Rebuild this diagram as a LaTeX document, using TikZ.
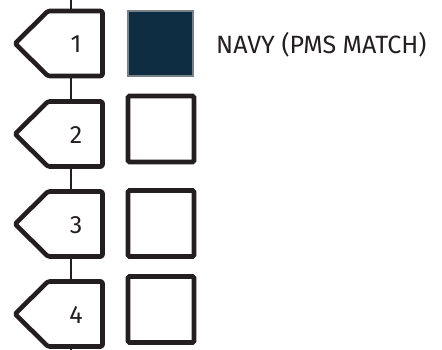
\documentclass[tikz,border=0pt]{standalone}
\usepackage{fontspec}
\setmainfont{Fira Sans}
\definecolor{ink}{HTML}{231F20}
\definecolor{navy}{HTML}{0F2D42}
\definecolor{navyedge}{HTML}{7A8088}
\begin{document}
\begin{tikzpicture}[x=1pt,y=-1pt,
  penta/.style={draw=ink,line width=4.6pt,line join=round,rounded corners=1.5pt,fill=white},
  swatch/.style={draw=ink,line width=4.6pt,rounded corners=1.5pt,fill=white,minimum width=66pt,minimum height=66pt,inner sep=0pt,outer sep=0pt},
  navysw/.style={draw=navyedge,line width=1.8pt,fill=navy,minimum width=65pt,minimum height=65pt,inner sep=0pt,outer sep=0pt},
  stem/.style={draw=ink,line width=2pt},
  numtext/.style={font=\fontsize{25}{25}\selectfont,text=ink,inner sep=0pt},
  label/.style={font=\fontsize{25}{25}\selectfont,text=ink,anchor=west,inner sep=0pt}]
\useasboundingbox (0,0) rectangle (442,350);
\coordinate (top) at (71,0);
\coordinate (bot) at (71,350);
% stem behind
\draw[stem] (top) -- (bot);
\foreach \i/\cy/\sy in {1/43.5/43.5,2/134/129,3/224/223.5,4/314/309.5}{
  \coordinate (t\i) at (71,\cy-32.5);
  \coordinate (b\i) at (71,\cy+32.5);
  \draw[penta] (15,\cy) -- (48,\cy-32.5) -- (102.5,\cy-32.5) -- (102.5,\cy+32.5) -- (48,\cy+32.5) -- cycle;
  \node[numtext] (n\i) at (76,\cy+1) {\i};
}
\node[navysw] (s1) at (160.5,43.5) {};
\node[swatch] (s2) at (161,129) {};
\node[swatch] (s3) at (161,223.5) {};
\node[swatch] (s4) at (161,309.5) {};
\node[label] (lab) at (216,44.5) {NAVY (PMS MATCH)};
\end{tikzpicture}
\end{document}
